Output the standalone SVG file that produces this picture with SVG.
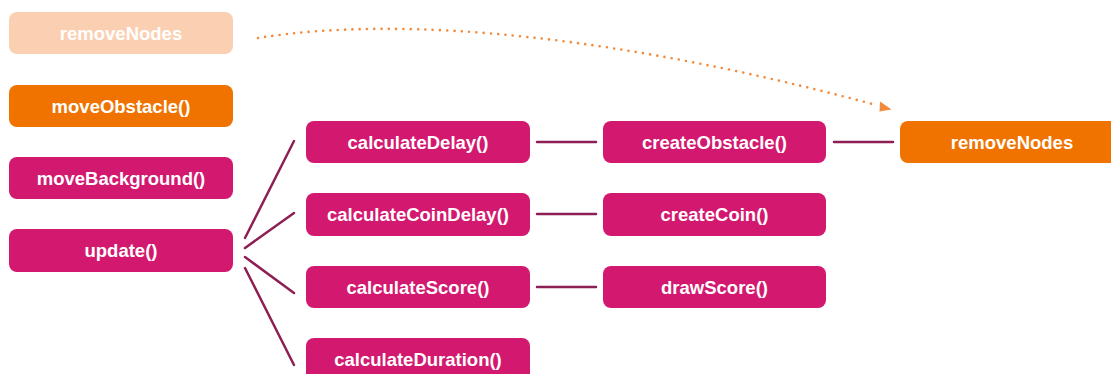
<svg xmlns="http://www.w3.org/2000/svg" width="1111" height="374" viewBox="0 0 1111 374">
<style>
.m{fill:#D3196F}
.o{fill:#F07300}
.f{fill:#FBCFB1}
text{font-family:"Liberation Sans",Arial,sans-serif;font-weight:bold;font-size:18.5px;fill:#fff;text-anchor:middle;dominant-baseline:central}
.c{stroke:#8E1F55;stroke-width:2.5;fill:none;stroke-linecap:round}
.d{stroke:#F28A3C;stroke-width:2.6;fill:none;stroke-dasharray:0 7.3;stroke-linecap:round}
.ah{fill:#F28A3C}
</style>
<rect width="1111" height="374" fill="#fff"/>
<g id="connectors">
<line class="c" x1="245" y1="238" x2="294" y2="141"/>
<line class="c" x1="245" y1="248" x2="294" y2="213"/>
<line class="c" x1="245" y1="257" x2="294" y2="293"/>
<line class="c" x1="245" y1="268" x2="294" y2="365"/>
<line class="c" x1="537" y1="142" x2="596" y2="142"/>
<line class="c" x1="537" y1="214" x2="596" y2="214"/>
<line class="c" x1="537" y1="287" x2="596" y2="287"/>
<line class="c" x1="834" y1="142" x2="893" y2="142"/>
<path class="d" d="M258,38 C408,14 626,37.5 876,105"/>
<polygon class="ah" points="880,101.5 891.5,109.5 879.5,111.5"/>
</g>
<g id="removeNodes-faded"><rect class="f" x="9" y="12" width="224" height="42" rx="8"/><text x="121" y="33">removeNodes</text></g>
<g id="moveObstacle"><rect class="o" x="9" y="85" width="224" height="42" rx="8"/><text x="121" y="106">moveObstacle()</text></g>
<g id="moveBackground"><rect class="m" x="9" y="157" width="224" height="42" rx="8"/><text x="121" y="178">moveBackground()</text></g>
<g id="update"><rect class="m" x="9" y="229" width="224" height="43" rx="8"/><text x="121" y="250">update()</text></g>
<g id="calculateDelay"><rect class="m" x="306" y="121" width="224" height="42" rx="8"/><text x="418" y="142">calculateDelay()</text></g>
<g id="calculateCoinDelay"><rect class="m" x="306" y="193" width="224" height="43" rx="8"/><text x="418" y="214">calculateCoinDelay()</text></g>
<g id="calculateScore"><rect class="m" x="306" y="266" width="224" height="42" rx="8"/><text x="418" y="287">calculateScore()</text></g>
<g id="calculateDuration"><rect class="m" x="306" y="338" width="224" height="44" rx="8"/><text x="418" y="359">calculateDuration()</text></g>
<g id="createObstacle"><rect class="m" x="603" y="121" width="223" height="42" rx="8"/><text x="714.5" y="142">createObstacle()</text></g>
<g id="createCoin"><rect class="m" x="603" y="193" width="223" height="43" rx="8"/><text x="714.5" y="214">createCoin()</text></g>
<g id="drawScore"><rect class="m" x="603" y="266" width="223" height="42" rx="8"/><text x="714.5" y="287">drawScore()</text></g>
<g id="removeNodes"><rect class="o" x="900" y="121" width="224" height="42" rx="8"/><text x="1012" y="142">removeNodes</text></g>
</svg>
